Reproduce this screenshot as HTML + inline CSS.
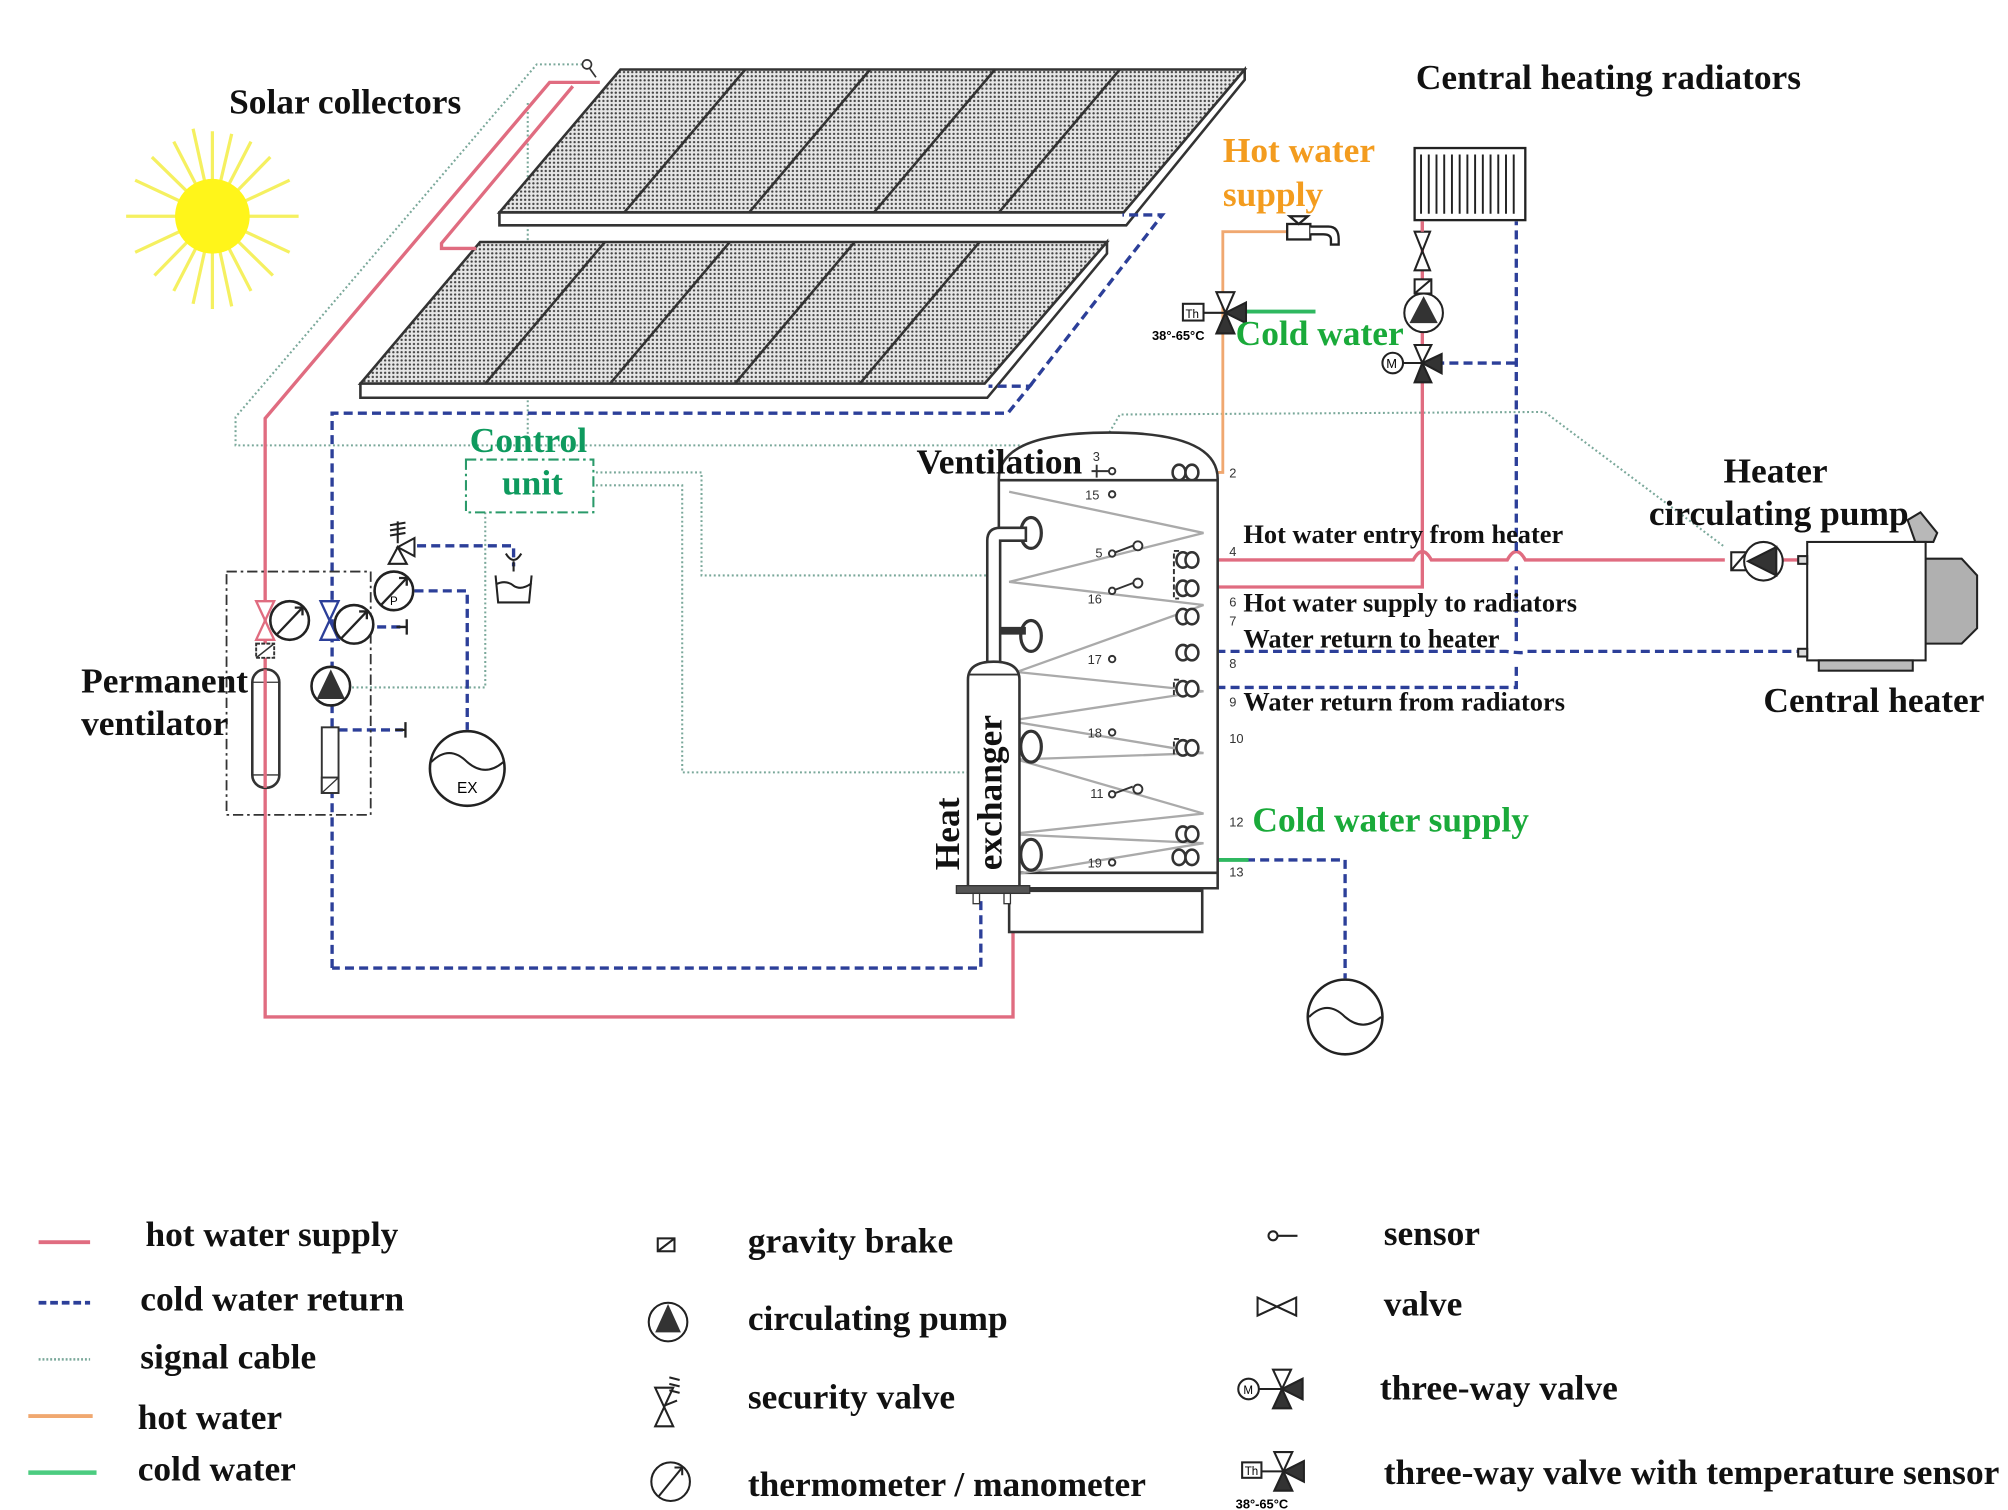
<!DOCTYPE html>
<html><head><meta charset="utf-8"><style>
html,body{margin:0;padding:0;background:#fff;}
svg{display:block}
text{font-family:"Liberation Serif",serif;font-weight:bold;}
</style></head><body>
<svg width="2008" height="1510" viewBox="0 0 1560 1173" preserveAspectRatio="none" xmlns="http://www.w3.org/2000/svg">
<defs>
<pattern id="dots" width="3.2" height="3.2" patternUnits="userSpaceOnUse">
<rect width="3.2" height="3.2" fill="#e6e6e6"/><circle cx="1.6" cy="1.6" r="0.9" fill="#444"/></pattern>
</defs>
<rect width="1560" height="1173" fill="#fff"/>

<!-- Sun -->
<g stroke="#f5f060" stroke-width="2.5">
<line x1="165" y1="168" x2="232" y2="168"/><line x1="165" y1="168" x2="98" y2="168"/>
<line x1="165" y1="168" x2="165" y2="240"/><line x1="165" y1="168" x2="165" y2="102"/>
<line x1="165" y1="168" x2="225" y2="140"/><line x1="165" y1="168" x2="105" y2="196"/>
<line x1="165" y1="168" x2="225" y2="196"/><line x1="165" y1="168" x2="105" y2="140"/>
<line x1="165" y1="168" x2="195" y2="110"/><line x1="165" y1="168" x2="135" y2="226"/>
<line x1="165" y1="168" x2="135" y2="110"/><line x1="165" y1="168" x2="195" y2="226"/>
<line x1="165" y1="168" x2="210" y2="122"/><line x1="165" y1="168" x2="120" y2="214"/>
<line x1="165" y1="168" x2="212" y2="214"/><line x1="165" y1="168" x2="118" y2="122"/>
<line x1="165" y1="168" x2="180" y2="104"/><line x1="165" y1="168" x2="150" y2="236"/>
<line x1="165" y1="168" x2="180" y2="238"/><line x1="165" y1="168" x2="150" y2="100"/>
</g>
<circle cx="165" cy="168" r="29" fill="#fff51a"/>

<!-- signal cables (dotted) -->
<g fill="none" stroke="#7aa89a" stroke-width="1.6" stroke-dasharray="1.5 2">
<path d="M456,50 L417,50 L183,324 L183,346 L856,346 L870,322 L1200,320 L1340,425"/>
<path d="M463,367 L545,367 L545,447 L776,447"/>
<path d="M463,377 L530,377 L530,600 L776,600"/>
<path d="M377,398 L377,534 L273,534"/>
<path d="M410,80 L410,346"/>
</g>
<circle cx="456" cy="50" r="3.5" fill="#fff" stroke="#333" stroke-width="1.3"/>
<line x1="458" y1="53" x2="463" y2="60" stroke="#333" stroke-width="1.3"/>

<!-- Solar panels -->
<g stroke="#333" stroke-width="2">
<polygon points="482,54 967,54 873,165 388,165" fill="url(#dots)"/>
<polygon points="388,165 873,165 967,54 967,62 875,175 388,175" fill="#fff"/>
<line x1="579" y1="54" x2="485" y2="165"/><line x1="676" y1="54" x2="582" y2="165"/>
<line x1="773" y1="54" x2="679" y2="165"/><line x1="870" y1="54" x2="776" y2="165"/>
<polygon points="373,188 860,188 765,298 280,298" fill="url(#dots)"/>
<polygon points="280,298 765,298 860,188 860,197 767,309 280,309" fill="#fff"/>
<line x1="470" y1="188" x2="377" y2="298"/><line x1="567" y1="188" x2="474" y2="298"/>
<line x1="664" y1="188" x2="571" y2="298"/><line x1="761" y1="188" x2="668" y2="298"/>
</g>

<!-- Hot supply red lines -->
<g fill="none" stroke="#e06c80" stroke-width="2.6">
<path d="M466,64 L427,64 L206,325 L206,790 L787,790 L787,700"/>
<path d="M445,67 L343,189 L343,193 L370,193"/>
<path d="M923,435 L1098,435 Q1105,422 1112,435 L1171,435 Q1178,422 1185,435 L1340,435"/>
<path d="M923,456 L1105,456 L1105,172"/>
<path d="M1381,435 L1405,435"/>
</g>
<!-- Cold return blue dashed -->
<g fill="none" stroke="#2c3f99" stroke-width="2.6" stroke-dasharray="7 4">
<path d="M258,752 L258,321 L783,321 L800,300 L768,300"/>
<path d="M800,300 L903,167 L872,167"/>
<path d="M762,700 L762,752 L258,752"/>
<path d="M923,506 L1170,506 Q1185,508 1186,506 L1405,506"/>
<path d="M923,534 L1178,534 L1178,516 M1178,498 L1178,440 M1178,428 L1178,172"/>
<path d="M1115,282 L1178,282"/>
<path d="M968,668 L1045,668 L1045,760"/>
<path d="M313,424 L399,424 L399,440"/>
<path d="M322,459 L363,459 L363,567"/>
<path d="M271,487 L313,487"/>
<path d="M263,567 L313,567"/>
<path d="M826,685 L862,685 L862,672"/>
</g>
<!-- orange hot water -->
<path d="M940,367 L950,367 L950,180 L1005,180" fill="none" stroke="#f0a870" stroke-width="2.2"/>
<!-- green cold -->
<line x1="960" y1="242" x2="1022" y2="242" stroke="#2fb860" stroke-width="3"/>
<line x1="940" y1="668" x2="970" y2="668" stroke="#2fb860" stroke-width="3"/>

<!-- Tank -->
<g stroke="#333" stroke-width="2" fill="#fff">
<rect x="784" y="692" width="150" height="32"/>
<path d="M776,690 L776,372 Q776,336 862,336 Q946,336 946,372 L946,690 Z"/>
<line x1="776" y1="373" x2="946" y2="373"/>
<line x1="776" y1="678" x2="946" y2="678"/>
</g>
<polyline points="784,382 935,414 784,452 935,470 790,522 935,537 784,560 935,585 790,590 935,632 784,648 935,655 784,680" fill="none" stroke="#aaa" stroke-width="1.8"/>
<!-- couplings right -->
<g fill="#fff" stroke="#333" stroke-width="2">
<g transform="translate(921,367)"><ellipse cx="-5" cy="0" rx="5" ry="6"/><ellipse cx="5" cy="0" rx="5" ry="6"/></g>
<g transform="translate(921,435)"><ellipse cx="-2" cy="0" rx="5" ry="6"/><ellipse cx="5" cy="0" rx="5" ry="6"/></g>
<g transform="translate(921,457)"><ellipse cx="-2" cy="0" rx="5" ry="6"/><ellipse cx="5" cy="0" rx="5" ry="6"/></g>
<g transform="translate(921,479)"><ellipse cx="-2" cy="0" rx="5" ry="6"/><ellipse cx="5" cy="0" rx="5" ry="6"/></g>
<g transform="translate(921,507)"><ellipse cx="-2" cy="0" rx="5" ry="6"/><ellipse cx="5" cy="0" rx="5" ry="6"/></g>
<g transform="translate(921,535)"><ellipse cx="-2" cy="0" rx="5" ry="6"/><ellipse cx="5" cy="0" rx="5" ry="6"/></g>
<g transform="translate(921,581)"><ellipse cx="-2" cy="0" rx="5" ry="6"/><ellipse cx="5" cy="0" rx="5" ry="6"/></g>
<g transform="translate(921,648)"><ellipse cx="-2" cy="0" rx="5" ry="6"/><ellipse cx="5" cy="0" rx="5" ry="6"/></g>
<g transform="translate(921,666)"><ellipse cx="-5" cy="0" rx="5" ry="6"/><ellipse cx="5" cy="0" rx="5" ry="6"/></g>
</g>
<path d="M916,428 L912,428 L912,465 L916,465 M916,528 L912,528 L912,540 M916,574 L912,574 L912,588" fill="none" stroke="#333" stroke-width="1.5" stroke-dasharray="4 2"/>
<!-- couplings left -->
<g fill="#fff" stroke="#333" stroke-width="2.5">
<ellipse cx="801" cy="414" rx="8" ry="12"/><ellipse cx="801" cy="494" rx="8" ry="12"/>
<ellipse cx="801" cy="580" rx="8" ry="12"/><ellipse cx="801" cy="664" rx="8" ry="12"/>
</g>
<!-- heat exchanger -->
<path d="M767,520 L767,420 Q767,410 777,410 L797,410 L797,420 L777,420 L777,520" fill="#fff" stroke="#333" stroke-width="2"/>
<path d="M777,490 L797,490" stroke="#333" stroke-width="6"/>
<path d="M752,690 L752,528 Q752,514 772,514 Q792,514 792,528 L792,690 Z" fill="#fff" stroke="#333" stroke-width="2"/>
<line x1="752" y1="524" x2="792" y2="524" stroke="#333" stroke-width="1.5"/>
<rect x="743" y="688" width="57" height="6" fill="#555" stroke="#333"/>
<rect x="756" y="694" width="5" height="8" fill="#fff" stroke="#333"/><rect x="780" y="694" width="5" height="8" fill="#fff" stroke="#333"/>
<!-- tank sensors -->
<g font-size="10" fill="#333">
<text x="849" y="358" style="font-family:'Liberation Sans';font-weight:normal">3</text>
<text x="843" y="388" style="font-family:'Liberation Sans';font-weight:normal">15</text>
<text x="851" y="433" style="font-family:'Liberation Sans';font-weight:normal">5</text>
<text x="845" y="469" style="font-family:'Liberation Sans';font-weight:normal">16</text>
<text x="845" y="516" style="font-family:'Liberation Sans';font-weight:normal">17</text>
<text x="845" y="573" style="font-family:'Liberation Sans';font-weight:normal">18</text>
<text x="847" y="620" style="font-family:'Liberation Sans';font-weight:normal">11</text>
<text x="845" y="674" style="font-family:'Liberation Sans';font-weight:normal">19</text>
<text x="955" y="371" style="font-family:'Liberation Sans';font-weight:normal">2</text>
<text x="955" y="432" style="font-family:'Liberation Sans';font-weight:normal">4</text>
<text x="955" y="471" style="font-family:'Liberation Sans';font-weight:normal">6</text>
<text x="955" y="486" style="font-family:'Liberation Sans';font-weight:normal">7</text>
<text x="955" y="519" style="font-family:'Liberation Sans';font-weight:normal">8</text>
<text x="955" y="549" style="font-family:'Liberation Sans';font-weight:normal">9</text>
<text x="955" y="577" style="font-family:'Liberation Sans';font-weight:normal">10</text>
<text x="955" y="642" style="font-family:'Liberation Sans';font-weight:normal">12</text>
<text x="955" y="681" style="font-family:'Liberation Sans';font-weight:normal">13</text>
</g>
<g stroke="#333" stroke-width="1.5" fill="#fff">
<line x1="848" y1="366" x2="862" y2="366"/><line x1="852" y1="361" x2="852" y2="371"/><circle cx="864" cy="366" r="2.5"/>
<circle cx="864" cy="384" r="2.5"/>
<line x1="864" y1="430" x2="880" y2="424"/><circle cx="864" cy="430" r="2.5"/><circle cx="884" cy="424" r="3.5"/>
<line x1="864" y1="459" x2="880" y2="453"/><circle cx="864" cy="459" r="2.5"/><circle cx="884" cy="453" r="3.5"/>
<circle cx="864" cy="512" r="2.5"/><circle cx="864" cy="569" r="2.5"/>
<line x1="864" y1="617" x2="880" y2="611"/><circle cx="864" cy="617" r="2.5"/><circle cx="884" cy="613" r="3.5"/>
<circle cx="864" cy="670" r="2.5"/>
</g>

<!-- Left group -->
<rect x="176" y="444" width="112" height="189" fill="none" stroke="#333" stroke-width="1.4" stroke-dasharray="8 3 2 3"/>
<rect x="362" y="357" width="99" height="41" fill="none" stroke="#2a9a6a" stroke-width="1.6" stroke-dasharray="8 3 2 3"/>
<path d="M199,467 L213,467 L199,497 L213,497 Z" fill="#fff" stroke="#e06c80" stroke-width="1.8"/>
<rect x="199" y="500" width="14" height="11" fill="#fff" stroke="#333" stroke-width="1.5" stroke-dasharray="3 1"/>
<line x1="199" y1="511" x2="213" y2="500" stroke="#333" stroke-width="1.2"/>
<rect x="196" y="520" width="21" height="92" rx="10" fill="#fff" stroke="#333" stroke-width="2"/>
<line x1="196" y1="530" x2="217" y2="530" stroke="#333"/><line x1="196" y1="602" x2="217" y2="602" stroke="#333"/>
<line x1="206" y1="520" x2="206" y2="612" stroke="#e06c80" stroke-width="2.6"/>
<path d="M249,467 L263,467 L249,497 L263,497 Z" fill="#fff" stroke="#2c3f99" stroke-width="1.8"/>
<g fill="#fff" stroke="#222" stroke-width="2">
<circle cx="225" cy="482" r="15"/><circle cx="275" cy="485" r="15"/><circle cx="306" cy="459" r="15"/>
</g>
<g stroke="#222" stroke-width="1.8" fill="none">
<line x1="215" y1="493" x2="235" y2="472"/><path d="M229,472 L235,472 L235,478"/>
<line x1="265" y1="496" x2="285" y2="475"/><path d="M279,475 L285,475 L285,481"/>
<line x1="296" y1="470" x2="316" y2="449"/><path d="M310,449 L316,449 L316,455"/>
<path d="M308,487 L316,487 M316,481 L316,493 M307,567 L315,567 M315,561 L315,573"/>
</g>
<text x="303" y="470" font-size="9" style="font-family:'Liberation Sans';font-weight:normal">P</text>
<g stroke="#222" stroke-width="1.6" fill="#fff">
<polygon points="302,438 316,438 309,425"/><polygon points="309,425 322,418 322,432"/>
<path d="M309,422 L309,405 M303,412 L315,410 M303,416 L315,414 M303,408 L315,406" fill="none"/>
</g>
<path d="M393,430 Q399,440 405,430 M399,436 L399,444 M385,447 L387,468 L411,468 L413,447 M385,454 Q393,450 399,455 Q405,459 413,453" fill="none" stroke="#222" stroke-width="1.6"/>
<circle cx="257" cy="533" r="15" fill="#fff" stroke="#222" stroke-width="2"/>
<polygon points="257,520 246,543 268,543" fill="#333"/>
<rect x="250" y="565" width="13" height="51" fill="#fff" stroke="#333" stroke-width="1.5"/>
<rect x="250" y="604" width="13" height="12" fill="#fff" stroke="#333" stroke-width="1.5"/>
<line x1="250" y1="616" x2="263" y2="604" stroke="#333"/>
<circle cx="363" cy="597" r="29" fill="#fff" stroke="#222" stroke-width="2"/>
<path d="M335,592 Q349,578 363,592 Q377,604 391,592" fill="none" stroke="#222" stroke-width="1.6"/>
<text x="355" y="616" font-size="12" style="font-family:'Liberation Sans';font-weight:normal">EX</text>
<circle cx="1045" cy="790" r="29" fill="#fff" stroke="#222" stroke-width="2"/>
<path d="M1017,790 Q1031,776 1045,790 Q1059,802 1073,790" fill="none" stroke="#222" stroke-width="1.6"/>

<!-- Right: tap, valves, radiator -->
<g stroke="#222" stroke-width="1.8" fill="#fff">
<rect x="1000" y="174" width="18" height="12"/>
<path d="M1002,168 L1016,168 L1009,174 Z"/>
<path d="M1018,176 L1032,176 Q1040,176 1040,186 L1040,190 L1034,190 L1034,186 Q1034,182 1028,182 L1018,182"/>
<rect x="1099" y="115" width="86" height="56"/>
</g>
<g stroke="#222" stroke-width="1.5" fill="none">
<path d="M1104,120 L1104,166 M1110,120 L1110,166 M1116,120 L1116,166 M1122,120 L1122,166 M1128,120 L1128,166 M1134,120 L1134,166 M1140,120 L1140,166 M1146,120 L1146,166 M1152,120 L1152,166 M1158,120 L1158,166 M1164,120 L1164,166 M1170,120 L1170,166 M1176,120 L1176,166"/>
</g>
<g stroke="#222" stroke-width="1.6">
<polygon points="945,227 959,227 952,243" fill="#fff"/>
<polygon points="945,259 959,259 952,243" fill="#333"/>
<polygon points="968,235 968,251 952,243" fill="#333"/>
<line x1="935" y1="243" x2="952" y2="243"/>
<rect x="919" y="236" width="16" height="13" fill="#fff"/>
</g>
<text x="921" y="247" font-size="9" style="font-family:'Liberation Sans';font-weight:normal">Th</text>
<text x="895" y="264" font-size="10" style="font-family:'Liberation Sans';font-weight:bold">38°-65°C</text>
<g stroke="#222" stroke-width="1.6" fill="#fff">
<path d="M1099,180 L1111,180 L1099,210 L1111,210 Z"/>
<rect x="1099" y="217" width="13" height="11"/><line x1="1099" y1="228" x2="1112" y2="217"/>
<circle cx="1106" cy="243" r="15"/>
<polygon points="1099,268 1112,268 1105,282"/>
<polygon points="1099,297 1112,297 1105,282" fill="#333"/>
<polygon points="1120,275 1120,290 1105,282" fill="#333"/>
<line x1="1090" y1="282" x2="1105" y2="282"/>
<circle cx="1082" cy="282" r="8"/>
</g>
<polygon points="1106,230 1095,251 1117,251" fill="#333"/>
<text x="1077" y="286" font-size="10" style="font-family:'Liberation Sans';font-weight:normal">M</text>
<line x1="1105" y1="172" x2="1105" y2="180" stroke="#e06c80" stroke-width="2.5"/>
<g stroke="#222" stroke-width="1.6">
<rect x="1345" y="429" width="12" height="14" fill="#fff"/><line x1="1345" y1="443" x2="1357" y2="429"/>
<circle cx="1370" cy="436" r="15" fill="#fff"/>
<polygon points="1358,436 1380,425 1380,447" fill="#333"/>
<polygon points="1482,404 1492,398 1505,414 1502,421 1488,421" fill="#b8b8b8"/>
<polygon points="1495,434 1524,434 1536,447 1536,488 1524,500 1495,500" fill="#b0b0b0"/>
<rect x="1404" y="421" width="92" height="92" fill="#fff"/>
<rect x="1413" y="513" width="73" height="8" fill="#bbb"/>
<rect x="1397" y="432" width="7" height="6" fill="#ddd"/><rect x="1397" y="504" width="7" height="6" fill="#ddd"/>
</g>

<!-- Labels -->
<g font-size="27.5" fill="#111">
<text x="178" y="88">Solar collectors</text>
<text x="1100" y="69">Central heating radiators</text>
<text x="712" y="368">Ventilation</text>
<text x="1339" y="375">Heater</text>
<text x="1281" y="408">circulating pump</text>
<text x="63" y="538">Permanent</text>
<text x="63" y="571">ventilator</text>
<text x="1370" y="553">Central heater</text>
<text transform="translate(745,676) rotate(-90)">Heat</text>
<text transform="translate(778,676) rotate(-90)">exchanger</text>
</g>
<g font-size="27.5">
<text x="950" y="126" fill="#f39c1f">Hot water</text>
<text x="950" y="160" fill="#f39c1f">supply</text>
<text x="960" y="268" fill="#1aaa3a">Cold water</text>
<text x="973" y="646" fill="#1aaa3a">Cold water supply</text>
<text x="365" y="351" fill="#0e9a5e">Control</text>
<text x="390" y="384" fill="#0e9a5e">unit</text>
</g>
<g font-size="20.5" fill="#111">
<text x="966" y="422">Hot water entry from heater</text>
<text x="966" y="475">Hot water supply to radiators</text>
<text x="966" y="503">Water return to heater</text>
<text x="966" y="552">Water return from radiators</text>
</g>

<!-- Legend -->
<line x1="30" y1="965" x2="70" y2="965" stroke="#e06c80" stroke-width="3"/>
<line x1="30" y1="1012" x2="70" y2="1012" stroke="#2c3f99" stroke-width="3" stroke-dasharray="6 3"/>
<line x1="30" y1="1056" x2="70" y2="1056" stroke="#7aa89a" stroke-width="2" stroke-dasharray="1.5 1.5"/>
<line x1="22" y1="1100" x2="72" y2="1100" stroke="#f0a870" stroke-width="3"/>
<line x1="22" y1="1144" x2="75" y2="1144" stroke="#4ccc80" stroke-width="3.5"/>
<g font-size="27.5" fill="#111">
<text x="113" y="968">hot water supply</text>
<text x="109" y="1018">cold water return</text>
<text x="109" y="1063">signal cable</text>
<text x="107" y="1110">hot water</text>
<text x="107" y="1150">cold water</text>
<text x="581" y="973">gravity brake</text>
<text x="581" y="1033">circulating pump</text>
<text x="581" y="1094">security valve</text>
<text x="581" y="1162">thermometer / manometer</text>
<text x="1075" y="967">sensor</text>
<text x="1075" y="1022">valve</text>
<text x="1072" y="1087">three-way valve</text>
<text x="1075" y="1153">three-way valve with temperature sensor</text>
</g>
<g stroke="#222" stroke-width="1.6" fill="#fff">
<rect x="511" y="962" width="13" height="10"/><line x1="511" y1="972" x2="524" y2="962"/>
<circle cx="519" cy="1027" r="15"/>
<polygon points="509,1078 523,1078 516,1093"/><polygon points="509,1108 523,1108 516,1093"/>
<path d="M516,1092 L526,1088 M520,1070 L528,1072 M520,1075 L528,1077 M520,1080 L528,1082" fill="none"/>
<circle cx="521" cy="1151" r="15"/><line x1="512" y1="1162" x2="530" y2="1140"/><path d="M524,1140 L530,1140 L530,1146" fill="none"/>
<circle cx="989" cy="960" r="3.5"/><line x1="993" y1="960" x2="1008" y2="960"/>
<path d="M977,1008 L1007,1022 L1007,1008 L977,1022 Z"/>
<circle cx="970" cy="1079" r="8"/><line x1="978" y1="1079" x2="996" y2="1079"/>
<polygon points="989,1064 1003,1064 996,1079"/><polygon points="989,1094 1003,1094 996,1079" fill="#333"/><polygon points="1012,1071 1012,1087 996,1079" fill="#333"/>
<rect x="965" y="1136" width="15" height="12"/><line x1="980" y1="1143" x2="997" y2="1143"/>
<polygon points="990,1128 1004,1128 997,1143"/><polygon points="990,1158 1004,1158 997,1143" fill="#333"/><polygon points="1013,1135 1013,1151 997,1143" fill="#333"/>
</g>
<polygon points="519,1013 509,1035 529,1035" fill="#333"/>
<text x="966" y="1083" font-size="9" style="font-family:'Liberation Sans';font-weight:normal">M</text>
<text x="967" y="1146" font-size="9" style="font-family:'Liberation Sans';font-weight:normal">Th</text>
<text x="960" y="1172" font-size="10" style="font-family:'Liberation Sans';font-weight:bold">38°-65°C</text>
</svg>
</body></html>
